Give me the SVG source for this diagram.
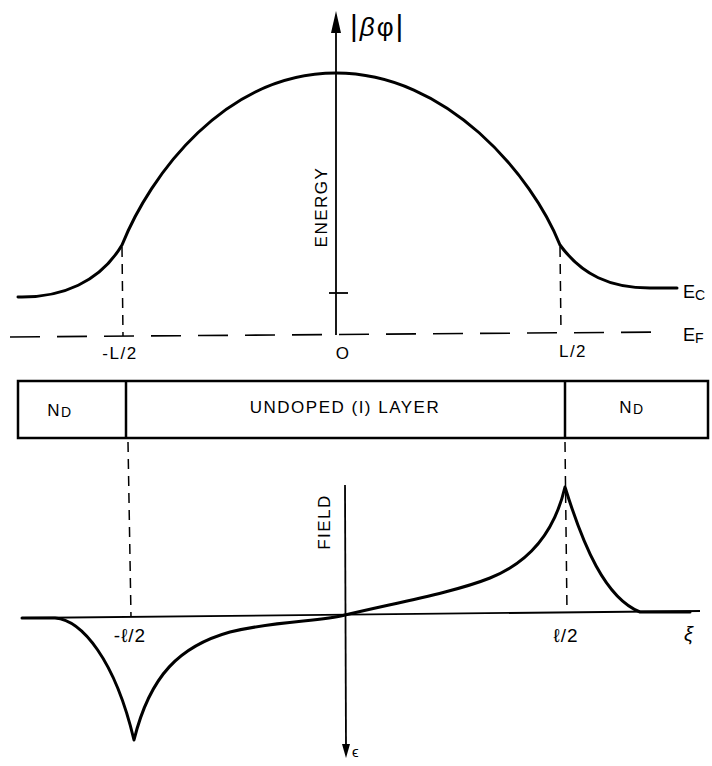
<svg xmlns="http://www.w3.org/2000/svg" width="712" height="766" viewBox="0 0 712 766">
<style>
text{font-family:"Liberation Sans","DejaVu Sans",sans-serif;fill:#000}
.curve{fill:none;stroke:#000;stroke-width:3;stroke-linecap:round;stroke-linejoin:round}
.axis{fill:none;stroke:#000;stroke-width:1.8}
.dash{fill:none;stroke:#000;stroke-width:1.5;stroke-dasharray:10 7}
.ef{fill:none;stroke:#000;stroke-width:1.6;stroke-dasharray:30 17}
.box{fill:none;stroke:#000;stroke-width:2.5}
.lbl{font-size:17px;letter-spacing:1.5px}
.ell{font-size:19px;letter-spacing:1px}
</style>
<rect width="712" height="766" fill="#fff"/>
<g id="energy-panel">
  <line class="axis" x1="336" y1="30" x2="336" y2="335"/>
  <polygon points="336,11 331,33 341,33" fill="#000"/>
  <line class="axis" x1="329" y1="293" x2="348" y2="293"/>
  <text x="350" y="36" font-size="26"><tspan font-size="30">|</tspan><tspan font-style="italic" dx="2">β</tspan><tspan dx="2">φ</tspan><tspan font-size="30" dx="2">|</tspan></text>
  <text class="lbl" transform="translate(327,207) rotate(-90)" text-anchor="middle" font-size="17">ENERGY</text>
  <path class="curve" d="M18,297 C62,298 100,282 122,245 C150,175 225,73 336,73 C447,73 532,175 560,245 C582,275 610,288 650,288 L677,288"/>
  <path class="ef" d="M10,337 L665,332"/>
  <path class="dash" d="M122,247 L123,336"/>
  <path class="dash" d="M560,247 L561,332"/>
  <text x="683" y="298" font-size="18">E<tspan font-size="14" dy="2">C</tspan></text>
  <text x="683" y="341" font-size="18">E<tspan font-size="14" dy="2">F</tspan></text>
  <text class="lbl" x="120" y="359" text-anchor="middle">-L/2</text>
  <text class="lbl" x="343" y="359" text-anchor="middle">O</text>
  <text class="lbl" x="573" y="357" text-anchor="middle">L/2</text>
</g>
<g id="layer-box">
  <rect class="box" x="18" y="381" width="690" height="57"/>
  <line class="box" x1="126" y1="381" x2="126" y2="438"/>
  <line class="box" x1="565" y1="381" x2="565" y2="438"/>
  <text class="lbl" x="60" y="416" text-anchor="middle">N<tspan font-size="14" dy="1">D</tspan></text>
  <text class="lbl" x="345" y="413" text-anchor="middle">UNDOPED (I) LAYER</text>
  <text class="lbl" x="632" y="413" text-anchor="middle">N<tspan font-size="14" dy="1">D</tspan></text>
</g>
<g id="field-panel">
  <path class="dash" d="M128,442 L131,617"/>
  <path class="dash" d="M565,442 L567,612"/>
  <line class="axis" x1="22" y1="618" x2="700" y2="611"/>
  <line class="axis" x1="345" y1="485" x2="346" y2="748"/>
  <polygon points="346,758 342,744 350,744" fill="#000"/>
  <text x="352" y="757" font-size="15">ϵ</text>
  <text class="lbl" transform="translate(330,522) rotate(-90)" text-anchor="middle">FIELD</text>
  <path class="curve" d="M22,618 L55,618 C82,620 115,660 134,740 C150,675 180,646 230,632 C280,620 320,622 345,615 C400,602 455,592 490,578 C530,562 555,530 565,487 C583,545 605,598 640,612 L690,612"/>
  <text class="ell" x="130" y="642" text-anchor="middle">-ℓ/2</text>
  <text class="ell" x="566" y="642" text-anchor="middle">ℓ/2</text>
  <text x="684" y="641" font-size="20" font-style="italic">ξ</text>
</g>
</svg>
